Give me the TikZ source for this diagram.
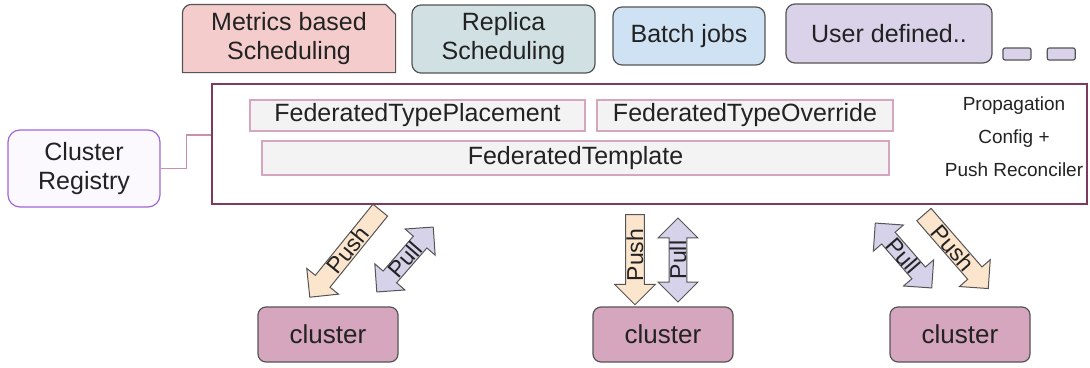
\documentclass[tikz,border=0pt]{standalone}
\usepackage{fontspec}
\setmainfont{Liberation Sans}
\usetikzlibrary{shapes,arrows,positioning,calc,backgrounds}

\definecolor{metricsfill}{HTML}{F4CCCC}
\definecolor{replicafill}{HTML}{D0E0E3}
\definecolor{batchfill}{HTML}{CFE2F3}
\definecolor{userfill}{HTML}{D9D2E9}
\definecolor{clusterfill}{HTML}{D5A6BD}
\definecolor{pushfill}{HTML}{FCE5CD}
\definecolor{pullfill}{HTML}{D6D2EA}
\definecolor{crdfill}{HTML}{F3F3F3}
\definecolor{crdline}{HTML}{D5A6BD}
\definecolor{mainline}{HTML}{7E3A5E}
\definecolor{regline}{HTML}{A066D8}
\definecolor{linkline}{HTML}{C98FAB}
\definecolor{edge}{HTML}{555555}
\definecolor{ink}{HTML}{222222}

\begin{document}
\begin{tikzpicture}[x=1pt, y=-1pt, text=ink, font=\fontsize{25}{29}\selectfont]
% Define block styles
\tikzstyle{tab} = [rectangle, draw=edge, line width=1.2pt, rounded corners=9pt,
    align=center, inner sep=0pt]
\tikzstyle{crd} = [rectangle, draw=crdline, fill=crdfill, line width=1.2pt,
    inner sep=0pt, minimum height=31pt]
\tikzstyle{dot} = [rectangle, draw=edge, fill=userfill, line width=1.2pt,
    rounded corners=2pt, minimum width=28pt, minimum height=12pt, inner sep=0pt]
\tikzstyle{cluster} = [rectangle, draw=edge, fill=clusterfill, line width=1.2pt,
    rounded corners=8pt, minimum width=140pt, minimum height=55pt,
    font=\fontsize{26}{30}\selectfont]
\tikzstyle{push} = [single arrow, draw=edge, fill=pushfill, line width=1pt,
    inner xsep=0pt, inner ysep=0.5pt, single arrow head extend=11pt,
    single arrow head indent=0pt, font=\fontsize{23}{25}\selectfont]
\tikzstyle{pull} = [double arrow, draw=edge, fill=pullfill, line width=1pt,
    inner xsep=0pt, inner ysep=0pt, double arrow head extend=11pt,
    font=\fontsize{23}{25}\selectfont]
\tikzstyle{link} = [draw=linkline, line width=1.2pt]
\useasboundingbox (0,0) rectangle (1090,367);

    % Place nodes
    \node [tab, draw=none, minimum width=212pt, minimum height=67pt] (metrics) at (289,38.5) {Metrics based\\Scheduling};
    \node [tab, fill=replicafill, minimum width=183pt, minimum height=68pt] (replica) at (503.5,39) {Replica\\Scheduling};
    \node [tab, fill=batchfill, minimum width=152pt, minimum height=58pt] (batch) at (689,36) {Batch jobs};
    \node [tab, fill=userfill, minimum width=206pt, minimum height=59pt] (user) at (889,33.5) {User defined..};
    \node [dot] (more1) at (1017,54) {};
    \node [dot, right=15pt of more1] (more2) {};

    \node [rectangle, draw=mainline, line width=1.4pt, minimum width=875pt,
      minimum height=120pt] (main) at (649.5,144) {};
    \node [crd, minimum width=335pt] (placement) at (417.5,115.5) {FederatedTypePlacement};
    \node [crd, minimum width=296pt] (override) at (745,115.5) {FederatedTypeOverride};
    \node [crd, minimum width=627pt, minimum height=34pt] (template) at (575.5,158) {FederatedTemplate};
    \node [align=center, font=\fontsize{19}{33}\selectfont] (propcfg) at (1014,137)
      {Propagation\\Config +\\Push Reconciler};

    \node [tab, draw=regline, fill=regline!4, rounded corners=12pt,
      minimum width=152pt, minimum height=77pt] (registry) at (84,168.5) {Cluster\\Registry};

    \node [cluster] (c1) at (328,334.5) {cluster};
    \node [cluster] (c2) at (663,334.5) {cluster};
    \node [cluster] (c3) at (960,334.5) {cluster};

    % Push / Pull arrows
    \node [push, rotate=51, shape border rotate=180, minimum height=112pt] (push1) at (348,250) {Push};
    \node [pull, rotate=49, minimum height=86pt] (pull1) at (405,259.5) {Pull};
    \node [push, rotate=90, shape border rotate=180, minimum height=90pt] (push2) at (635,255) {Push};
    \node [pull, rotate=90, minimum height=84pt] (pull2) at (678,260) {Pull};
    \node [push, rotate=-49, minimum height=98pt] (push3) at (953,248) {Push};
    \node [pull, rotate=-49, minimum height=86pt] (pull3) at (903.5,255.5) {Pull};

    % Metrics tab with snipped corner
    \begin{scope}[on background layer]
    \draw [edge, fill=metricsfill, line width=1.2pt, rounded corners=9pt]
      (metrics.south west) -- (metrics.north west)
      [sharp corners] -- ($(metrics.north east)+(-10,0)$)
      -- ($(metrics.north east)+(0,10)$) -- (metrics.south east) -- cycle;
    \end{scope}

    % Draw edges
    \coordinate (mainin) at ($(main.west)+(0,-9)$);
    \path [link] (registry.east) -- ++(26,0) |- (mainin);
\end{tikzpicture}
\end{document}
